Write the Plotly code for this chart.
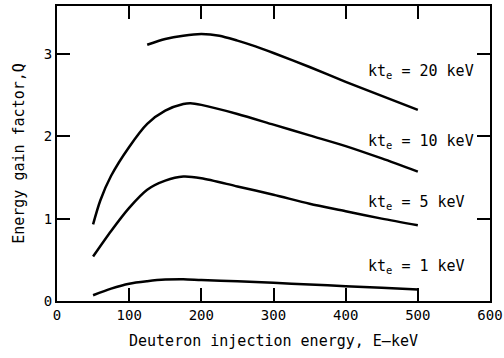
import plotly.graph_objects as go

# Data
x20 = [125, 150, 175, 200, 225, 250, 275, 300, 350, 400, 450, 500]
q20 = [3.11, 3.18, 3.22, 3.24, 3.22, 3.16, 3.09, 3.01, 2.84, 2.66, 2.49, 2.32]

x10 = [50, 60, 75, 100, 125, 150, 175, 185, 200, 250, 300, 350, 400, 450, 500]
q10 = [0.93, 1.22, 1.52, 1.87, 2.15, 2.31, 2.39, 2.40, 2.38, 2.27, 2.14, 2.01, 1.88, 1.73, 1.57]

x5 = [50, 75, 100, 125, 150, 175, 200, 250, 300, 350, 400, 450, 500]
q5 = [0.54, 0.85, 1.13, 1.35, 1.46, 1.51, 1.49, 1.39, 1.29, 1.18, 1.09, 1.00, 0.92]

x1 = [50, 75, 100, 125, 150, 175, 200, 250, 300, 350, 400, 450, 500]
q1 = [0.07, 0.15, 0.21, 0.24, 0.26, 0.265, 0.255, 0.24, 0.22, 0.20, 0.18, 0.16, 0.14]

labels = ["kt<sub>e</sub> = 20 keV", "kt<sub>e</sub> = 10 keV",
          "kt<sub>e</sub> = 5 keV", "kt<sub>e</sub> = 1 keV"]
label_x = [428, 428, 428, 428]
label_y = [2.78, 1.93, 1.20, 0.42]

xticks = [0, 100, 200, 300, 400, 500, 600]
yticks = [0, 1, 2, 3]

FONT = "DejaVu Sans Mono"
XR = [0, 600]
YR = [0, 3.58]

fig = go.Figure()
for xs, qs in [(x20, q20), (x10, q10), (x5, q5), (x1, q1)]:
    fig.add_trace(go.Scatter(x=xs, y=qs, mode="lines",
                             line=dict(color="black", width=2.5, shape="spline", smoothing=0.8),
                             showlegend=False, hoverinfo="skip"))

for t, lx, ly in zip(labels, label_x, label_y):
    fig.add_annotation(x=lx, y=ly, text=t, showarrow=False, xanchor="left", yanchor="middle",
                       font=dict(family=FONT, size=15, color="black"))

axis_common = dict(showgrid=False, zeroline=False, showline=True, linecolor="black", linewidth=2,
                   mirror="allticks", ticks="inside", ticklen=13, tickwidth=2, tickcolor="black",
                   automargin=False,
                   tickfont=dict(family=FONT, size=14, color="black"))

fig.update_xaxes(range=XR, tickvals=xticks, ticktext=[str(v) for v in xticks],
                 title=dict(text="Deuteron injection energy, E\u2014keV", standoff=14,
                            font=dict(family=FONT, size=15, color="black")),
                 **axis_common)
fig.update_yaxes(range=YR, tickvals=yticks, ticktext=[str(v) for v in yticks],
                 title=dict(text="Energy gain factor,Q", standoff=16,
                            font=dict(family=FONT, size=15, color="black")),
                 **axis_common)

fig.update_layout(width=504, height=358, margin=dict(l=57, r=14, t=6, b=57),
                  plot_bgcolor="white", paper_bgcolor="white")

fig.write_html("out.html", config={"displayModeBar": False},
               post_script="document.body.style.margin='0';document.body.style.overflow='hidden';")
